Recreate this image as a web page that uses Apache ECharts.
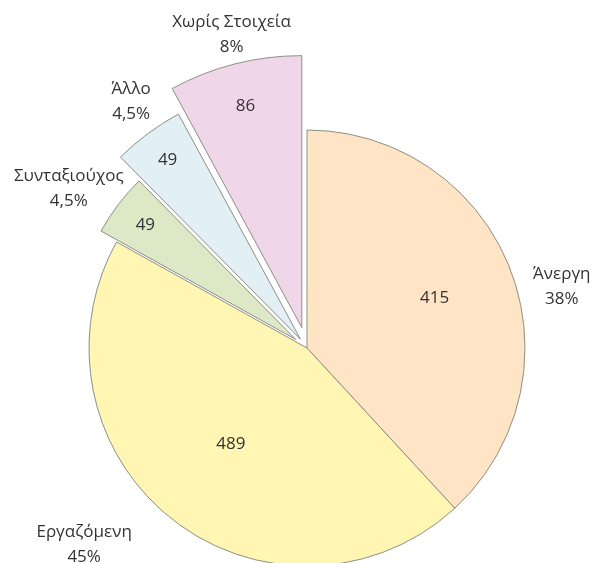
<!DOCTYPE html>
<html>
<head>
<meta charset="utf-8">
<script src="https://cdn.jsdelivr.net/npm/echarts@6/dist/echarts.min.js"></script>
<style>
  html, body { margin: 0; padding: 0; background: #ffffff; }
  #chart { width: 594px; height: 563px; }
</style>
</head>
<body>
<div id="chart"></div>
<script>
// ---- data ----
const categories = ['Άνεργη', 'Εργαζόμενη', 'Συνταξιούχος', 'Άλλο', 'Χωρίς Στοιχεία'];
const values = [415, 489, 49, 49, 86];
const percentLabels = ['38%', '45%', '4,5%', '4,5%', '8%'];

// ---- style ----
const colors = ['#FFE4C6', '#FFF6B4', '#DDE8C6', '#E2F0F6', '#EFD7E9'];
const borderColor = '#8E8E84';
const textColor = '#333333';
const fontFamily = '"Open Sans", "Noto Sans", sans-serif';

// ---- layout ----
const C = [307, 348];
const R = 218;
const mainLines = { 0: [18, 30], 1: [0, 83] };     // labelLine length / length2
const mainValueDist = { 0: 134, 1: 120 };
const exploded = [
  { i: 2, off: 14, r: 223, v: 186, l1: 27, l2: 23 },
  { i: 3, off: 11, r: 256, v: 220, l1: 40, l2: -12 },
  { i: 4, off: 21, r: 272, v: 226, l1: 30, l2: -9 }
];

const total = values.reduce((a, b) => a + b, 0);
function midAngle(i) {
  let s = 0;
  for (let j = 0; j < i; j++) s += values[j];
  return (s + values[i] / 2) / total * 2 * Math.PI;
}
function shiftedCenter(i, dist) {
  const a = midAngle(i);
  return [C[0] + dist * Math.sin(a), C[1] - dist * Math.cos(a)];
}

const nameLabel = {
  position: 'outside',
  fontSize: 17,
  lineHeight: 25,
  color: textColor,
  fontFamily: fontFamily,
  formatter: p => p.name + '\n' + percentLabels[p.dataIndex]
};
const valueLabel = {
  show: true,
  position: 'inside',
  fontSize: 17,
  color: textColor,
  opacity: 1,
  fontFamily: fontFamily,
  formatter: p => String(p.value)
};

const hidden = { color: 'rgba(0,0,0,0)', borderWidth: 0 };
const base = {
  type: 'pie',
  startAngle: 90,
  clockwise: true,
  avoidLabelOverlap: false,
  animation: false,
  emphasis: { disabled: true },
  labelLine: { show: false }
};

// invisible companion series that only carries the value label of one slice
function valueSeries(center, dist, idx) {
  return Object.assign({}, base, {
    center: center,
    radius: [0, 2 * dist],
    silent: true,
    data: categories.map((n, i) => ({
      name: n,
      value: values[i],
      itemStyle: hidden,
      label: Object.assign({}, valueLabel, { show: i === idx })
    }))
  });
}

const series = [];

// main pie: Άνεργη, Εργαζόμενη
series.push(Object.assign({}, base, {
  center: C,
  radius: [0, R],
  labelLayout: { align: 'center', verticalAlign: 'top' },
  data: categories.map((n, i) => {
    const vis = i < 2;
    return {
      name: n,
      value: values[i],
      itemStyle: vis ? { color: colors[i], borderColor: borderColor, borderWidth: 1 } : hidden,
      label: Object.assign({}, nameLabel, { show: vis }),
      labelLine: { show: false, length: vis ? mainLines[i][0] : 0, length2: vis ? mainLines[i][1] : 0 }
    };
  })
}));
series.push(valueSeries(C, mainValueDist[0], 0));
series.push(valueSeries(C, mainValueDist[1], 1));

// exploded slices
exploded.forEach(e => {
  const ctr = shiftedCenter(e.i, e.off);
  series.push(Object.assign({}, base, {
    center: ctr,
    radius: [0, e.r],
    labelLayout: { align: 'center', verticalAlign: 'middle' },
    data: categories.map((n, i) => {
      const vis = i === e.i;
      return {
        name: n,
        value: values[i],
        itemStyle: vis ? { color: colors[i], borderColor: borderColor, borderWidth: 1 } : hidden,
        label: Object.assign({}, nameLabel, { show: vis }),
        labelLine: { show: false, length: vis ? e.l1 : 0, length2: vis ? e.l2 : 0 }
      };
    })
  }));
  series.push(valueSeries(ctr, e.v, e.i));
});

const chart = echarts.init(document.getElementById('chart'), null, { renderer: 'canvas' });
chart.setOption({
  backgroundColor: '#ffffff',
  animation: false,
  series: series
});
</script>
</body>
</html>
